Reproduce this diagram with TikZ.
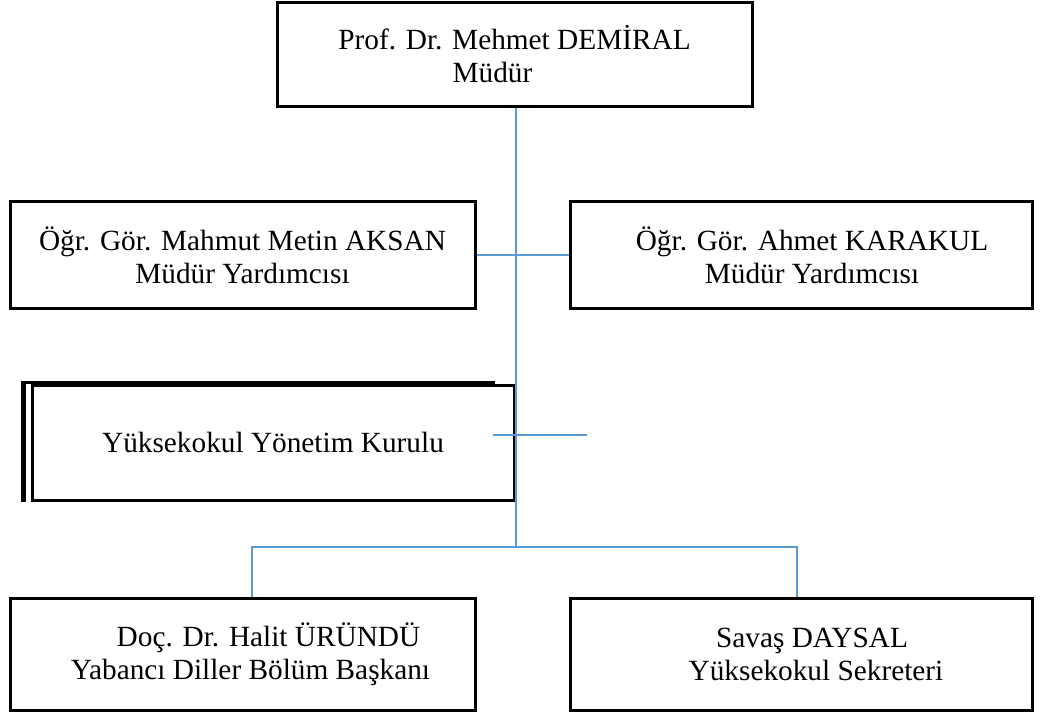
\documentclass[tikz,border=0pt]{standalone}
\usepackage{fontspec}
\setmainfont{Liberation Serif}
\usetikzlibrary{positioning}

\definecolor{linkblue}{RGB}{91,155,213}

\begin{document}
\begin{tikzpicture}[
		x=1pt, y=-1pt,
		block/.style={draw, line width=3pt, align=center, inner sep=0pt,
			minimum width=465pt, minimum height=107pt,
			font=\fontsize{29.3}{33}\selectfont},
		link/.style={draw=linkblue, line width=1.3pt},
	]
		\useasboundingbox (0,0) rectangle (1045,716);
		\node (dir) [block, minimum width=475pt, minimum height=104pt] at (514.5,54) {Prof. Dr. Mehmet DEMİRAL\\Müdür\hspace*{44pt}};
		\node (ml) [block] at (242.5,255) {Öğr. Gör. Mahmut Metin AKSAN\\Müdür Yardımcısı};
		\node (mr) [block, minimum width=462pt] at (801,255) {\hspace*{22pt}Öğr. Gör. Ahmet KARAKUL\\\hspace*{22pt}Müdür Yardımcısı};
		\node (board) [block, minimum width=482pt, minimum height=115pt] at (273,442.5) {Yüksekokul Yönetim Kurulu};
		\node (bl) [block, minimum height=112pt] at (242.5,654) {\hspace*{52pt}Doç. Dr. Halit ÜRÜNDÜ\\\hspace*{16pt}Yabancı Diller Bölüm Başkanı};
		\node (br) [block, minimum width=462pt, minimum height=112pt] at (801,654) {\hspace*{22pt}Savaş DAYSAL\\\hspace*{30pt}Yüksekokul Sekreteri};
		% second edge of the board box
		\draw[line width=3pt] ([xshift=-8pt]board.south west) |- ([xshift=-21pt,yshift=1.5pt]board.north east);
		\draw[line width=3pt] ([xshift=-6pt]board.south west) -- ([xshift=-6pt]board.north west);
		
		\coordinate (bus) at (516,547);
		\coordinate (busl) at (252,547);
		\coordinate (busr) at (797,547);
		\coordinate (tickl) at (493,435);
		\coordinate (tickr) at (587,435);
		
		\draw[link] (dir.south -| bus) -- (bus);
		\draw[link] (ml) -- (mr);
		\draw[link] (tickl) -- (tickr);
		\draw[link] (bl.north -| busl) -- (busl) -- (busr) -- (br.north -| busr);
	\end{tikzpicture}
\end{document}
